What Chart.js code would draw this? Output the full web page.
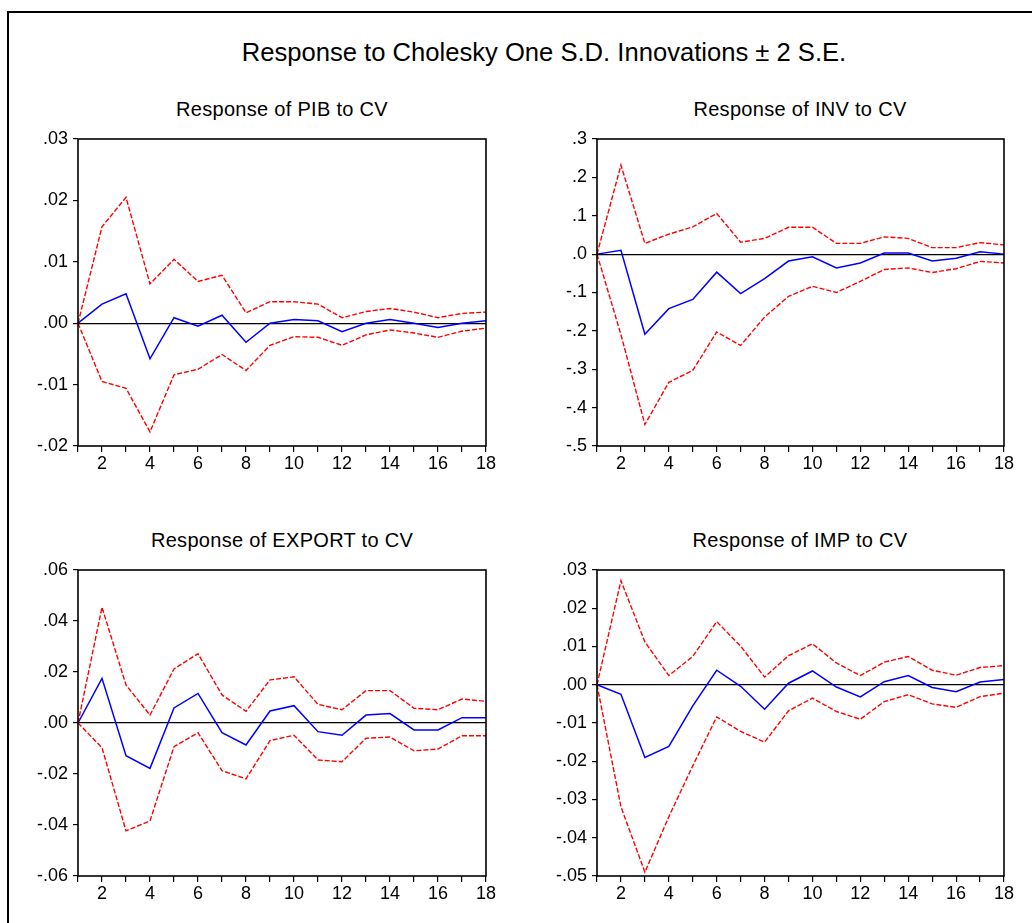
<!DOCTYPE html>
<html>
<head>
<meta charset="utf-8">
<script src="https://cdn.jsdelivr.net/npm/chart.js@4.4.1/dist/chart.umd.min.js"></script>
<style>
  html, body { margin:0; padding:0; background:#fff; width:1032px; height:923px; overflow:hidden; }
  #frame { position:absolute; left:7px; top:11px; width:2000px; height:2000px; border:2px solid #000; box-sizing:border-box; }
  .t { position:absolute; font-family: Arial, "Liberation Sans", sans-serif; color:#000; white-space:nowrap; line-height:1; text-align:center; }
  canvas { position:absolute; }
</style>
</head>
<body>
<div id="frame"></div>
<div class="t" id="mainTitle" style="left:0; width:1088px; top:40px; font-size:25.6px;">Response to Cholesky One S.D. Innovations ± 2 S.E.</div>
<div class="t" style="left:82px; width:400px; top:99px; font-size:20px; letter-spacing:0.3px;">Response of PIB to CV</div>
<div class="t" style="left:600px; width:400px; top:99px; font-size:20px; letter-spacing:0.3px;">Response of INV to CV</div>
<div class="t" style="left:82px; width:400px; top:530px; font-size:20px; letter-spacing:0.3px;">Response of EXPORT to CV</div>
<div class="t" style="left:600px; width:400px; top:530px; font-size:20px; letter-spacing:0.3px;">Response of IMP to CV</div>
<canvas id="c1" width="520" height="360" style="left:0px; top:120px;"></canvas>
<canvas id="c2" width="512" height="360" style="left:520px; top:120px;"></canvas>
<canvas id="c3" width="520" height="360" style="left:0px; top:550px;"></canvas>
<canvas id="c4" width="512" height="360" style="left:520px; top:550px;"></canvas>
<script>
// ---- data ----
const periods = [1,2,3,4,5,6,7,8,9,10,11,12,13,14,15,16,17,18];

const pibResp  = [0, 0.0031, 0.0048, -0.0058, 0.0009, -0.0005, 0.0013, -0.0031, 0.0000, 0.0006, 0.0004, -0.0014, 0.0000, 0.0006, 0.0000, -0.0007, 0.0000, 0.0004];
const pibUpper = [0, 0.0157, 0.0205, 0.0064, 0.0104, 0.0068, 0.0078, 0.0017, 0.0035, 0.0035, 0.0031, 0.0009, 0.0019, 0.0024, 0.0018, 0.0009, 0.0016, 0.0018];
const pibLower = [0, -0.0095, -0.0106, -0.0177, -0.0084, -0.0075, -0.0051, -0.0077, -0.0036, -0.0022, -0.0023, -0.0036, -0.0019, -0.0011, -0.0016, -0.0023, -0.0013, -0.0008];
const pibTicks = [-0.02, -0.01, 0.00, 0.01, 0.02, 0.03];

const invResp  = [0, 0.010, -0.209, -0.142, -0.118, -0.047, -0.103, -0.064, -0.018, -0.007, -0.036, -0.023, 0.003, 0.003, -0.018, -0.011, 0.006, 0.000];
const invUpper = [0, 0.232, 0.028, 0.052, 0.071, 0.106, 0.031, 0.041, 0.070, 0.070, 0.028, 0.028, 0.045, 0.041, 0.017, 0.017, 0.030, 0.024];
const invLower = [0, -0.210, -0.444, -0.334, -0.303, -0.203, -0.238, -0.164, -0.110, -0.084, -0.100, -0.071, -0.040, -0.036, -0.048, -0.038, -0.019, -0.023];
const invTicks = [-0.5, -0.4, -0.3, -0.2, -0.1, 0.0, 0.1, 0.2, 0.3];

const expResp  = [0, 0.0175, -0.0128, -0.0178, 0.0059, 0.0116, -0.0038, -0.0086, 0.0047, 0.0068, -0.0034, -0.0048, 0.0031, 0.0037, -0.0027, -0.0027, 0.0021, 0.0021];
const expUpper = [0, 0.0454, 0.0149, 0.0031, 0.0212, 0.0272, 0.0110, 0.0046, 0.0169, 0.0181, 0.0073, 0.0052, 0.0127, 0.0127, 0.0058, 0.0052, 0.0094, 0.0085];
const expLower = [0, -0.0097, -0.0423, -0.0384, -0.0093, -0.0038, -0.0187, -0.0219, -0.0069, -0.0048, -0.0145, -0.0152, -0.0060, -0.0055, -0.0109, -0.0102, -0.0050, -0.0050];
const expTicks = [-0.06, -0.04, -0.02, 0.00, 0.02, 0.04, 0.06];

const impResp  = [0, -0.0025, -0.0190, -0.0161, -0.0055, 0.0038, -0.0004, -0.0064, 0.0004, 0.0036, -0.0006, -0.0032, 0.0008, 0.0024, -0.0007, -0.0018, 0.0007, 0.0014];
const impUpper = [0, 0.0272, 0.0112, 0.0024, 0.0074, 0.0165, 0.0101, 0.0020, 0.0076, 0.0107, 0.0057, 0.0024, 0.0059, 0.0074, 0.0038, 0.0025, 0.0045, 0.0050];
const impLower = [0, -0.0319, -0.0490, -0.0345, -0.0212, -0.0084, -0.0122, -0.0150, -0.0068, -0.0035, -0.0070, -0.0090, -0.0044, -0.0026, -0.0050, -0.0059, -0.0031, -0.0022];
const impTicks = [-0.05, -0.04, -0.03, -0.02, -0.01, 0.00, 0.01, 0.02, 0.03];

// ---- drawing ----
const FONT = { family: 'Arial, "Liberation Sans", sans-serif', size: 18 };

function fmt(v, dec) {
  const s = Math.abs(v).toFixed(dec).replace(/^0/, '');
  return (v < -1e-9 ? '-' : '') + s;
}

const framePlugin = {
  id: 'frameBox',
  afterDraw(chart) {
    const a = chart.chartArea, ctx = chart.ctx;
    ctx.save();
    ctx.strokeStyle = '#000';
    ctx.lineWidth = 1.6;
    ctx.strokeRect(a.left, a.top, a.right - a.left, a.bottom - a.top);
    ctx.restore();
  }
};

function makePanel(id, resp, upper, lower, ticks, dec, yWidth, pad) {
  new Chart(document.getElementById(id), {
    type: 'line',
    data: {
      labels: periods,
      datasets: [
        { data: upper, borderColor: '#ff0000', borderWidth: 1.4, borderDash: [5, 2], pointRadius: 0, tension: 0, fill: false },
        { data: lower, borderColor: '#ff0000', borderWidth: 1.4, borderDash: [5, 2], pointRadius: 0, tension: 0, fill: false },
        { data: resp,  borderColor: '#0000ff', borderWidth: 1.5, pointRadius: 0, tension: 0, fill: false }
      ]
    },
    options: {
      responsive: false,
      animation: false,
      devicePixelRatio: 1,
      layout: { padding: pad },
      plugins: { legend: { display: false }, tooltip: { enabled: false }, title: { display: false } },
      scales: {
        x: {
          type: 'category',
          offset: false,
          grid: { drawOnChartArea: false, drawTicks: true, tickLength: 6, color: '#000', tickColor: '#000', offset: false, lineWidth: 1.2 },
          border: { display: false },
          ticks: {
            autoSkip: false, maxRotation: 0, minRotation: 0, color: '#000', font: FONT, padding: 1,
            callback: function (val) { const p = this.getLabelForValue(val); return p % 2 === 0 ? String(p) : ''; }
          },
          afterFit(s) { s.height = 30; }
        },
        y: {
          min: ticks[0],
          max: ticks[ticks.length - 1],
          afterBuildTicks(s) { s.ticks = ticks.map(v => ({ value: v })); },
          grid: {
            drawOnChartArea: true, drawTicks: true, tickLength: 5, lineWidth: 1.2,
            color: (c) => (c.tick && Math.abs(c.tick.value) < 1e-9) ? '#000' : 'rgba(0,0,0,0)',
            tickColor: '#000'
          },
          border: { display: false },
          ticks: { color: '#000', font: FONT, padding: 5, callback: (v) => fmt(v, dec) },
          afterFit(s) { s.width = yWidth; }
        }
      }
    },
    plugins: [framePlugin]
  });
}

makePanel('c1', pibResp, pibUpper, pibLower, pibTicks, 2, 78, { top: 19, right: 34, bottom: 4, left: 0 });
makePanel('c2', invResp, invUpper, invLower, invTicks, 1, 77, { top: 19, right: 28, bottom: 4, left: 0 });
makePanel('c3', expResp, expUpper, expLower, expTicks, 2, 78, { top: 20, right: 34, bottom: 4, left: 0 });
makePanel('c4', impResp, impUpper, impLower, impTicks, 2, 77, { top: 20, right: 28, bottom: 4, left: 0 });
</script>
</body>
</html>
